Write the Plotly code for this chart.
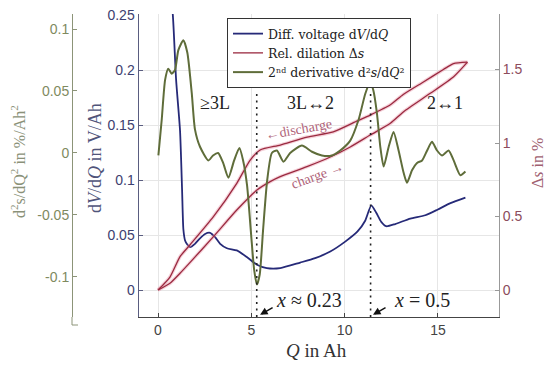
import plotly.graph_objects as go

# ---------------- data ----------------
q_dv = [0.59, 0.79, 0.97, 1.18, 1.29, 1.36, 1.45, 1.54, 1.72, 1.98, 2.25, 2.52, 2.79, 3.06, 3.33,
        3.69, 4.22, 4.76, 5.30, 5.83, 6.55, 7.62, 8.42, 9.23, 10.03, 10.68, 11.1, 11.43, 11.70,
        11.96, 12.23, 12.71, 13.52, 14.32, 14.97, 15.67, 16.47]
dv = [0.28, 0.251, 0.191, 0.145, 0.091, 0.055, 0.045, 0.042, 0.039, 0.042, 0.047, 0.051, 0.052, 0.048, 0.042,
      0.038, 0.036, 0.030, 0.023, 0.020, 0.020, 0.025, 0.029, 0.035, 0.044, 0.053, 0.063, 0.077, 0.070,
      0.062, 0.058, 0.060, 0.065, 0.068, 0.073, 0.079, 0.084]

q_dis = [0.0, 0.64, 1.18, 1.72, 2.97, 4.22, 4.94, 5.47, 6.55, 7.99, 9.39, 10.68, 11.37, 12.45,
         13.14, 14.22, 15.29, 15.83, 16.58]
ds_dis = [0.0, 0.088, 0.227, 0.308, 0.499, 0.726, 0.884, 0.952, 0.986, 1.04, 1.075, 1.15, 1.19, 1.26,
          1.33, 1.415, 1.50, 1.54, 1.55]

q_ch = [0.0, 0.64, 1.18, 1.72, 2.97, 4.22, 5.30, 6.01, 6.55, 7.98, 9.23, 10.30, 11.37, 12.45,
        13.16, 14.59, 15.84, 16.58]
ds_ch = [0.0, 0.046, 0.114, 0.188, 0.363, 0.544, 0.680, 0.737, 0.771, 0.839, 0.905, 0.973, 1.054, 1.134,
         1.213, 1.338, 1.451, 1.55]

q_d2 = [0.02, 0.20, 0.38, 0.55, 0.73, 0.91, 1.09, 1.36, 1.57, 1.81, 1.98, 2.25, 2.70, 2.95, 3.22, 3.49,
        3.77, 4.08, 4.36, 4.56, 4.77, 4.99, 5.15, 5.30, 5.45, 5.63, 5.85, 6.10, 6.37, 6.72, 7.08, 7.71,
        8.25, 8.78, 9.32, 9.76, 10.30, 10.75, 11.11, 11.37, 11.53, 11.73, 11.91, 12.09, 12.36, 12.62,
        12.89, 13.16, 13.34, 13.61, 13.88, 14.15, 14.42, 14.68, 14.95, 15.22, 15.57, 15.84, 16.20, 16.47]
d2 = [-0.002, 0.027, 0.059, 0.068, 0.064, 0.067, 0.083, 0.091, 0.081, 0.048, 0.019, 0.005, -0.006, -0.002,
      0.000, -0.008, -0.020, -0.006, 0.004, -0.006, -0.026, -0.066, -0.094, -0.106, -0.098, -0.062, -0.022,
      0.000, 0.002, -0.007, 0.000, 0.006, 0.001, -0.002, -0.002, 0.002, 0.010, 0.027, 0.048, 0.057, 0.051,
      0.032, 0.005, -0.011, 0.005, 0.017, 0.002, -0.016, -0.024, -0.014, -0.008, -0.006, 0.002, 0.009,
      0.002, -0.002, 0.002, -0.006, -0.018, -0.015]

q_ticks = [0, 5, 10, 15]
dv_ticks = [0, 0.05, 0.1, 0.15, 0.2, 0.25]
dv_ticktext = ["0", "0.05", "0.1", "0.15", "0.2", "0.25"]
ds_ticks = [0, 0.5, 1, 1.5]
ds_ticktext = ["0", "0.5", "1", "1.5"]
d2_ticks = [-0.1, -0.05, 0, 0.05, 0.1]
d2_ticktext = ["-0.1", "-0.05", "0", "0.05", "0.1"]
phase_q = [5.29, 11.39]
phase_labels = ["≥3L", "3L↔2", "2↔1"]

# ---------------- figure ----------------
W, H = 552, 366
ML, MR, MT, MB = 0, 53, 14, 49
PW, PH = W - ML - MR, H - MT - MB


def px(x):
    return (x - ML) / PW


def py(y):
    return (H - MB - y) / PH


SERIF = "Liberation Serif"
SANS = "Liberation Sans"
BLUE = "#262a78"
RED = "#9a2a40"
GREEN = "#5f6d3a"

fig = go.Figure()

# red glow
for q, s in ((q_dis, ds_dis), (q_ch, ds_ch)):
    fig.add_trace(go.Scatter(x=q, y=s, yaxis="y2", mode="lines", showlegend=False, hoverinfo="skip",
                             line=dict(color="rgba(230,140,160,0.4)", width=3.6, shape="spline", smoothing=0.6)))

fig.add_trace(go.Scatter(x=q_dis, y=ds_dis, yaxis="y2", mode="lines", name="Rel. dilation Δ<i>s</i>",
                         legendrank=2, line=dict(color=RED, width=1.3, shape="spline", smoothing=0.6)))
fig.add_trace(go.Scatter(x=q_ch, y=ds_ch, yaxis="y2", mode="lines", showlegend=False,
                         line=dict(color=RED, width=1.3, shape="spline", smoothing=0.6)))

fig.add_trace(go.Scatter(x=q_dv, y=dv, yaxis="y", mode="lines", name="Diff. voltage d<i>V</i>/d<i>Q</i>",
                         legendrank=1, line=dict(color=BLUE, width=1.8, shape="spline", smoothing=0.6)))

fig.add_trace(go.Scatter(x=q_d2, y=d2, yaxis="y3", mode="lines",
                         name="2ⁿᵈ derivative d²<i>s</i>/d<i>Q</i>²",
                         legendrank=3, line=dict(color=GREEN, width=2, shape="spline", smoothing=0.6)))

x0_dom = px(138.5)
fig.update_layout(
    width=W, height=H,
    margin=dict(l=ML, r=MR, t=MT, b=MB),
    paper_bgcolor="white", plot_bgcolor="white",
    showlegend=True,
    legend=dict(x=px(227), y=py(18), xanchor="left", yanchor="top",
                bgcolor="white", bordercolor="#333", borderwidth=1,
                font=dict(family="DejaVu Serif", size=12.5, color="#222"),
                itemwidth=30, tracegroupgap=0, traceorder="normal"),
    xaxis=dict(domain=[x0_dom, 1], range=[-1.045, 18.27], tickvals=q_ticks,
               ticks="inside", ticklen=4, tickcolor="#444", showline=True, linecolor="#444", linewidth=1,
               showgrid=True, gridcolor="#e6e6e6", zeroline=False, anchor="y",
               tickfont=dict(family=SANS, size=14, color="#444")),
    yaxis=dict(range=[-0.0245, 0.2509], tickvals=dv_ticks, ticktext=dv_ticktext,
               ticks="inside", ticklen=4, tickcolor="#5a5d80", showline=True, linecolor="#5a5d80",
               showgrid=True, gridcolor="#e6e6e6", zeroline=False, anchor="x",
               tickfont=dict(family=SANS, size=14, color="#3d4070")),
    yaxis2=dict(range=[-0.1837, 1.8776], tickvals=ds_ticks, ticktext=ds_ticktext, overlaying="y",
                side="right", anchor="x", ticks="inside", ticklen=4, tickcolor="#999",
                showline=True, linecolor="#999", showgrid=False, zeroline=False,
                tickfont=dict(family=SANS, size=14, color="#8c4c5c")),
    yaxis3=dict(range=[-0.1323, 0.1121], tickvals=d2_ticks, ticktext=d2_ticktext, overlaying="y",
                side="left", anchor="free", position=px(72), ticks="inside", ticklen=4, tickcolor="#8c9478",
                showline=True, linecolor="#8c9478", showgrid=False, zeroline=False,
                tickfont=dict(family=SANS, size=14, color="#7f8a5f")),
)

# phase boundary dotted lines
for qv in phase_q:
    fig.add_shape(type="line", xref="x", yref="y", x0=qv, x1=qv, y0=-0.0245, y1=0.179,
                  line=dict(color="#222", width=1.6, dash="2px,4.5px"))

# green axis extension below the plot
fig.add_shape(type="line", xref="paper", yref="paper", x0=px(72), x1=px(72), y0=0, y1=py(325),
              line=dict(color="#8c9478", width=1))
fig.add_shape(type="line", xref="paper", yref="paper", x0=px(72), x1=px(78), y0=py(325), y1=py(325),
              line=dict(color="#8c9478", width=1))

C = dict(xref="paper", yref="paper", xanchor="center", yanchor="middle", showarrow=False)
ann = []
for (xx, yy), t in zip([(215, 103), (310, 103), (445, 103)], phase_labels):
    ann.append(dict(x=px(xx), y=py(yy), text=t, font=dict(family=SERIF, size=18, color="#222"), **C))
ann.append(dict(x=px(298), y=py(129), text="←discharge", textangle=-10,
                font=dict(family=SERIF, size=14, color="#b0647a"), **C))
ann.append(dict(x=px(317), y=py(175), text="charge →", textangle=-20,
                font=dict(family=SERIF, size=14, color="#b0647a"), **C))
ann.append(dict(x=px(309), y=py(300), text="<i>x</i> ≈ 0.23",
                font=dict(family=SERIF, size=20, color="#222"), **C))
ann.append(dict(x=px(422), y=py(300), text="<i>x</i> = 0.5",
                font=dict(family=SERIF, size=20, color="#222"), **C))
for xv in (5.47, 11.52):
    ann.append(dict(x=xv, y=-0.0225, xref="x", yref="y", text="", showarrow=True, ax=14, ay=-8,
                    arrowhead=2, arrowsize=1, arrowwidth=1.5, arrowcolor="#111"))
ann.append(dict(x=px(18), y=py(162), text="d<sup>2</sup>s/dQ<sup>2</sup> in %/Ah<sup>2</sup>", textangle=-90,
                font=dict(family=SERIF, size=16, color="#8a9178"), **C))
ann.append(dict(x=px(95), y=py(158), text="d<i>V</i>/d<i>Q</i> in V/Ah", textangle=-90,
                font=dict(family=SERIF, size=18, color="#50547a"), **C))
ann.append(dict(x=px(537), y=py(163), text="Δ<i>s</i> in %", textangle=-90,
                font=dict(family=SERIF, size=16, color="#a06070"), **C))
ann.append(dict(x=px(316), y=py(350), text="<i>Q</i> in Ah",
                font=dict(family=SERIF, size=19, color="#333"), **C))
fig.update_layout(annotations=ann)

fig.write_html("out.html", config={"displayModeBar": False},
               post_script="document.body.style.margin='0';")
